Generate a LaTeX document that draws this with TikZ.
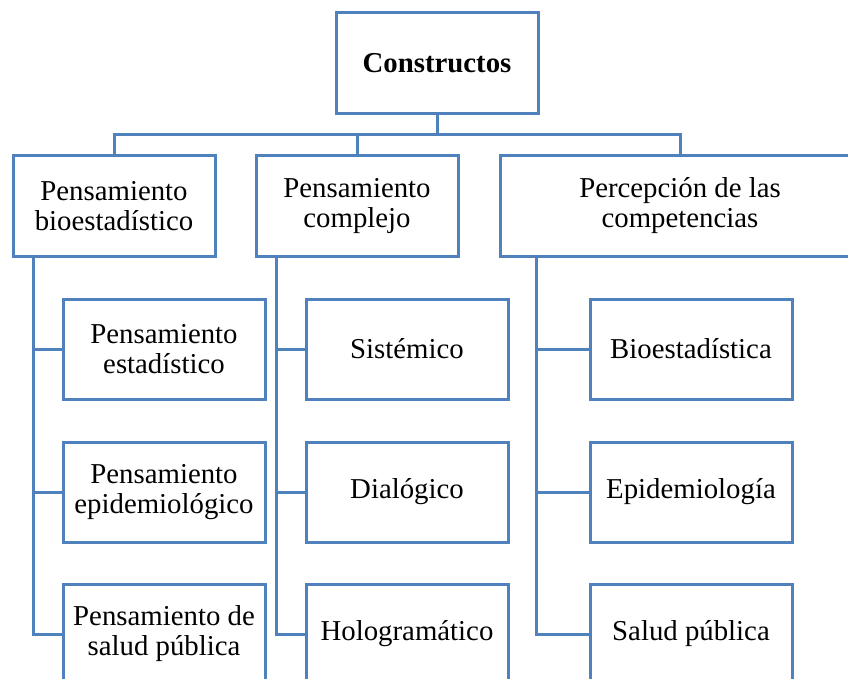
\documentclass[tikz,border=0pt]{standalone}
\usepackage{fontspec}
\setmainfont{Liberation Serif}
\definecolor{boxblue}{RGB}{79,129,189}
\begin{document}
\begin{tikzpicture}[x=1pt,y=-1pt,
  box/.style={draw=boxblue,line width=3pt,inner sep=0pt,outer sep=0pt,
    align=center,font=\fontsize{28.8}{30}\selectfont,text=black},
  conn/.style={draw=boxblue,line width=3pt}]
\useasboundingbox (0,0) rectangle (848,679);
\clip (0,0) rectangle (848,679);
\node[box,minimum width=202,minimum height=101] (top) at (437,63.5) {\textbf{Constructos}};
\node[box,minimum width=202,minimum height=100] (A) at (114,206) {Pensamiento\\bioestadístico};
\node[box,minimum width=202,minimum height=100] (B) at (357,206) {Pensamiento\\complejo};
\node[box,minimum width=360,minimum height=100] (C) at (680,206) {Percepción de las\\competencias};
\node[box,minimum width=202,minimum height=100] (a1) at (164,349) {Pensamiento\\estadístico};
\node[box,minimum width=202,minimum height=100] (a2) at (164,492) {Pensamiento\\epidemiológico};
\node[box,minimum width=202,minimum height=100] (a3) at (164,634) {Pensamiento de\\salud pública};
\node[box,minimum width=202,minimum height=100] (b1) at (407,349) {Sistémico};
\node[box,minimum width=202,minimum height=100] (b2) at (407,492) {Dialógico};
\node[box,minimum width=202,minimum height=100] (b3) at (407,634) {Hologramático};
\node[box,minimum width=202,minimum height=100] (c1) at (691,349) {Bioestadística};
\node[box,minimum width=202,minimum height=100] (c2) at (691,492) {Epidemiología};
\node[box,minimum width=202,minimum height=100] (c3) at (691,634) {Salud pública};
\coordinate (bus) at (437,135);
\coordinate (ta) at (33,256);
\coordinate (tb) at (276,256);
\coordinate (tc) at (536,256);
\draw[conn] (top.south) -- (bus);
\draw[conn] (bus) -| (A.north);
\draw[conn] (bus) -| (B.north);
\draw[conn] (bus) -| (C.north);
\draw[conn] (ta) |- (a3.west);
\draw[conn] (a1.west) -- (a1.west -| ta);
\draw[conn] (a2.west) -- (a2.west -| ta);
\draw[conn] (tb) |- (b3.west);
\draw[conn] (b1.west) -- (b1.west -| tb);
\draw[conn] (b2.west) -- (b2.west -| tb);
\draw[conn] (tc) |- (c3.west);
\draw[conn] (c1.west) -- (c1.west -| tc);
\draw[conn] (c2.west) -- (c2.west -| tc);
\end{tikzpicture}
\end{document}
